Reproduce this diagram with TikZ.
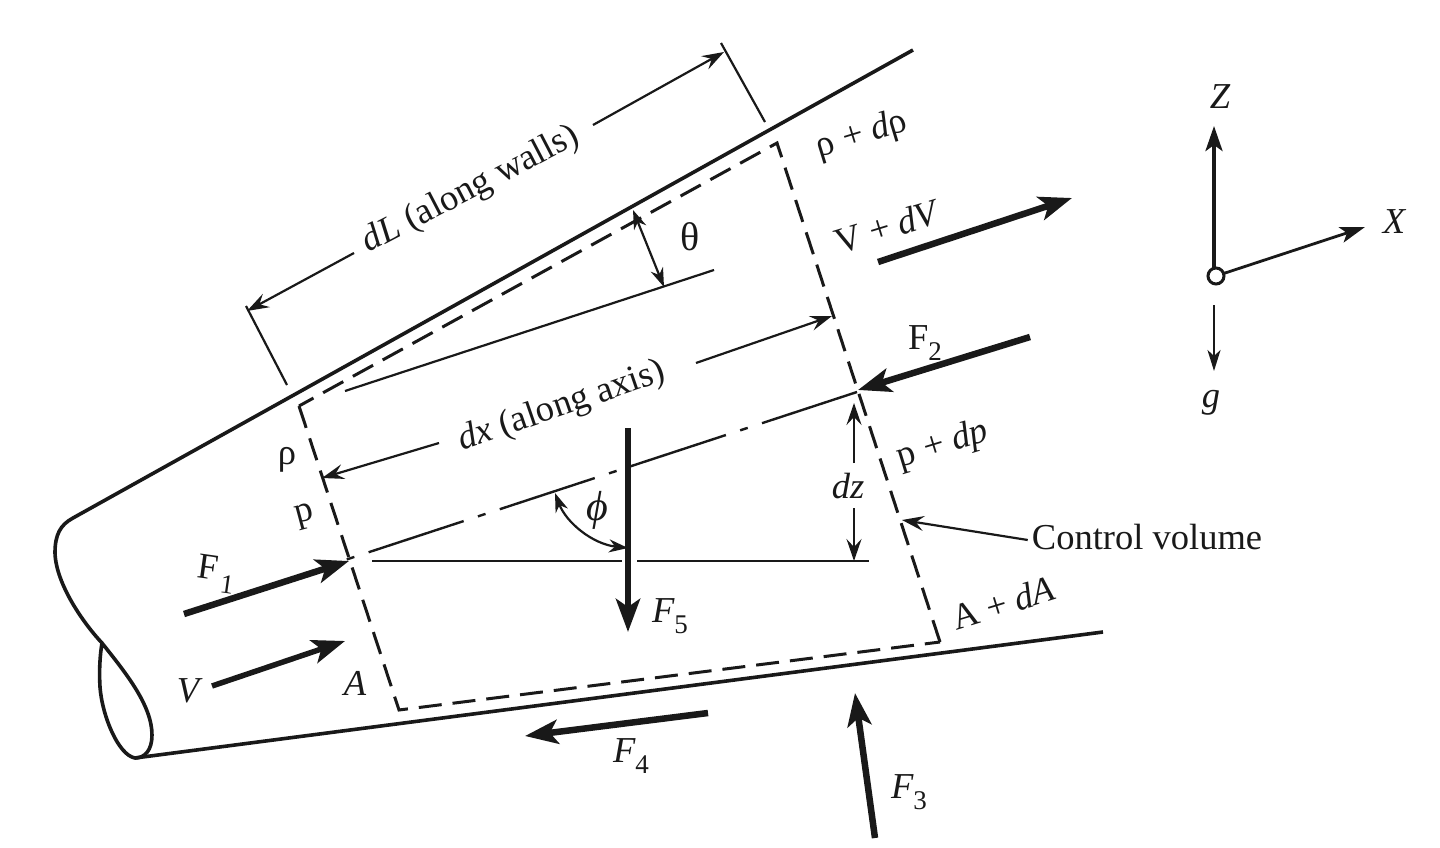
\documentclass[tikz,border=0pt]{standalone}
\usepackage{fontspec}
\setmainfont{Liberation Serif}
\usetikzlibrary{arrows.meta}
\newcommand{\sbs}[1]{\raisebox{-0.3em}{\fontsize{27}{30}\selectfont\upshape #1}}
\tikzset{
  wall/.style={line width=3.6pt,black!90,line join=round},
  thin line/.style={line width=2.2pt,black!90},
  cv/.style={line width=3pt,black!90,dash pattern=on 23pt off 11pt},
  axis/.style={line width=2.4pt,black!90,dash pattern=on 100pt off 15pt on 8pt off 15pt},
  dim/.style={line width=2.2pt,black!90,-{Stealth[length=22pt,width=15pt,inset=8pt]}},
  dimb/.style={line width=2.2pt,black!90,{Stealth[length=19pt,width=13pt,inset=6pt]}-{Stealth[length=19pt,width=13pt,inset=6pt]}},
  force/.style={line width=6.5pt,black!90,-{Stealth[length=33pt,width=24pt,inset=8pt]}},
  lab/.style={font=\fontsize{36.5}{42}\selectfont,inner sep=0pt,text=black!90},
  ilab/.style={font=\fontsize{36.5}{42}\selectfont\itshape,inner sep=0pt,text=black!90}
}
\begin{document}
\begin{tikzpicture}[x=1pt,y=-1pt]
\useasboundingbox (0,0) rectangle (1440,848);
\fill[white] (0,0) rectangle (1440,848);
% pipe
\coordinate (wt) at (913,50);
\coordinate (wb) at (1103,632);
\coordinate (ps) at (73,518);
\coordinate (pk) at (102,643);
\coordinate (pe) at (135,758);
\draw[wall] (wt) -- (ps) .. controls (60,525) and (55,535) .. (55,553)
  .. controls (56,585) and (85,625) .. (pk)
  .. controls (125,672) and (152,705) .. (152,735)
  .. controls (152,750) and (145,758) .. (pe)
  .. controls (118,755) and (102,715) .. (100,687)
  .. controls (99,670) and (100,655) .. (pk);
\draw[wall] (pe) -- (wb);
% control volume
\coordinate (c1) at (299,406);
\coordinate (c2) at (777,143);
\coordinate (c3) at (940,642);
\coordinate (c4) at (399,710);
\draw[cv] (c3) -- (c2) -- (c1);
\draw[cv] (c1) -- (c4) -- (c3);
% axis and horizontal
\coordinate (ax1) at (345,560);
\coordinate (ax2) at (857,392);
\draw[axis] (ax2) -- (ax1);
\coordinate (h1) at (372,561);
\coordinate (h2) at (622,561);
\coordinate (h3) at (637,561);
\coordinate (h4) at (869,561);
\draw[thin line,line width=2.6pt] (h1) -- (h2) (h3) -- (h4);
% wall parallel line
\coordinate (t1) at (345,391);
\coordinate (t2) at (714,270);
\draw[thin line] (t1) -- (t2);
\coordinate (ta) at (633,210);
\coordinate (tb) at (664,287);
\draw[dimb] (ta) -- (tb);
\node[lab,font=\fontsize{40}{42}\selectfont] (theta) at (690,237) {θ};
% dL
\coordinate (e1) at (246,306);
\coordinate (e2) at (287,385);
\coordinate (e3) at (721,43);
\coordinate (e4) at (765,122);
\draw[thin line] (e1) -- (e2) (e3) -- (e4);
\coordinate (dl1) at (354,253);
\coordinate (dl2) at (247,311);
\coordinate (dl3) at (593,125);
\coordinate (dl4) at (724,52);
\draw[dim] (dl1) -- (dl2);
\draw[dim] (dl3) -- (dl4);
\node[lab,rotate=27.5] (dL) at (471,190) {\itshape dL\upshape{} (along walls)};
% dx
\coordinate (dx1) at (439,443);
\coordinate (dx2) at (322,478);
\coordinate (dx3) at (696,363);
\coordinate (dx4) at (832,316);
\draw[dim] (dx1) -- (dx2);
\draw[dim] (dx3) -- (dx4);
\node[lab,rotate=19] (dx) at (562,407) {\itshape dx\upshape{} (along axis)};
% dz
\coordinate (z1) at (854,463);
\coordinate (z2) at (854,403);
\coordinate (z3) at (854,508);
\coordinate (z4) at (854,561);
\draw[dim] (z1) -- (z2);
\draw[dim] (z3) -- (z4);
\node[ilab] (dz) at (848,486) {dz};
% phi
\coordinate (p1) at (555,493);
\coordinate (p2) at (628,548);
\draw[dimb] (p1) .. controls (566,522) and (592,544) .. (p2);
\node[ilab,font=\fontsize{42}{44}\selectfont\itshape] (phi) at (597,510) {ϕ};
% forces
\coordinate (f1a) at (184,614);
\coordinate (f1b) at (349,561);
\draw[force] (f1a) -- (f1b);
\node[lab,rotate=-8] (F1) at (216,574) {F\sbs{\,1}};
\coordinate (va) at (212,686);
\coordinate (vb) at (345,641);
\draw[force,line width=5.5pt] (va) -- (vb);
\node[ilab] (V) at (188,691) {V};
\coordinate (f2a) at (1030,337);
\coordinate (f2b) at (858,390);
\draw[force] (f2a) -- (f2b);
\node[lab] (F2) at (925,343) {F\sbs{2}};
\coordinate (dva) at (878,262);
\coordinate (dvb) at (1072,198);
\draw[force] (dva) -- (dvb);
\node[lab,rotate=17] (VdV) at (886,227) {V + \itshape dV};
\coordinate (f3a) at (875,838);
\coordinate (f3b) at (855,693);
\draw[force] (f3a) -- (f3b);
\node[ilab] (F3) at (909,792) {F\sbs{3}};
\coordinate (f4a) at (708,713);
\coordinate (f4b) at (525,736);
\draw[force] (f4a) -- (f4b);
\node[ilab] (F4) at (631,756) {F\sbs{4}};
\coordinate (f5a) at (628,428);
\coordinate (f5b) at (628,632);
\draw[force] (f5a) -- (f5b);
\node[ilab] (F5) at (670,616) {F\sbs{5}};
% side labels
\node[lab] (rho) at (287,460) {ρ};
\node[lab,rotate=15] (pp) at (305,517) {p};
\node[ilab] (A) at (355,683) {A};
\node[lab,rotate=17] (rhod) at (862,135) {ρ + \itshape d\upshape ρ};
\node[lab,rotate=17] (pd) at (943,445) {p + \itshape dp};
\node[lab,rotate=17] (Ad) at (1003,603) {A + \itshape dA};
% control volume label
\node[lab] (cvl) at (1147,537) {Control volume};
\coordinate (cvt) at (902,520);
\draw[dim] (cvl.west) ++(-4,3) -- (cvt);
% coordinates
\coordinate (o) at (1216,276);
\coordinate (zt) at (1214,126);
\coordinate (xt) at (1365,227);
\coordinate (ga) at (1214,305);
\coordinate (gb) at (1214,371);
\draw[line width=3.8pt,black!90,-{Stealth[length=25pt,width=17pt,inset=6pt]}] (1214,268) -- (zt);
\draw[line width=2.8pt,black!90,-{Stealth[length=25pt,width=16pt,inset=6pt]}] (o) -- (xt);
\draw[line width=2.2pt,black!90,-{Stealth[length=21pt,width=13pt,inset=6pt]}] (ga) -- (gb);
\node[circle,draw=black!90,line width=3pt,fill=white,minimum size=16pt,inner sep=0pt] (oc) at (o) {};
\node[ilab] (Z) at (1220,97) {Z};
\node[ilab] (X) at (1394,222) {X};
\node[ilab] (g) at (1211,403) {g};
\end{tikzpicture}
\end{document}
